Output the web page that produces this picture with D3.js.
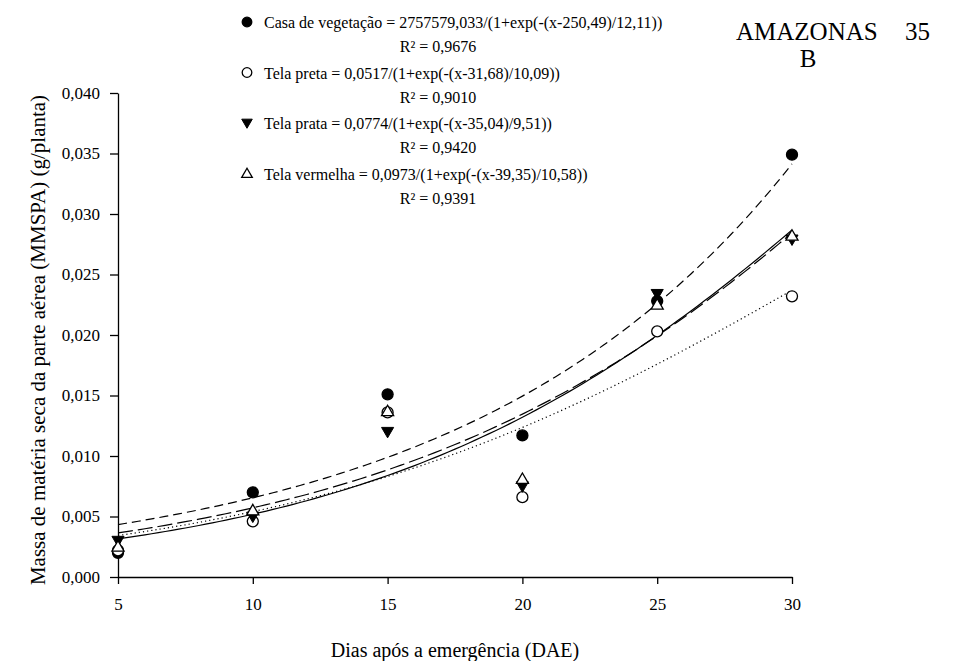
<!DOCTYPE html>
<html>
<head>
<meta charset="utf-8">
<script src="https://cdn.jsdelivr.net/npm/d3@7"></script>
<style>
  body { margin: 0; background: #fff; }
</style>
</head>
<body>
<svg id="chart" width="953" height="661"></svg>
<script>
// days after emergence
const days = [5, 10, 15, 20, 25, 30]

const seriesNames = ["Casa de vegetação", "Tela preta", "Tela prata", "Tela vermelha"]

const casaValues = [0.0020, 0.0070, 0.0151, 0.0117, 0.0228, 0.0349]
const pretaValues = [0.0022, 0.0046, 0.0136, 0.0066, 0.0203, 0.0232]
const prataValues = [0.0030, 0.0050, 0.0120, 0.0075, 0.0234, 0.0279]
const vermelhaValues = [0.0025, 0.0055, 0.0137, 0.0081, 0.0225, 0.0282]

// logistic fit params a/(1+exp(-(x-x0)/b))
const fitA = [2757579.033, 0.0517, 0.0774, 0.0973]
const fitX0 = [250.49, 31.68, 35.04, 39.35]
const fitB = [12.11, 10.09, 9.51, 10.58]
const equations = [
  "Casa de vegetação = 2757579,033/(1+exp(-(x-250,49)/12,11))",
  "Tela preta = 0,0517/(1+exp(-(x-31,68)/10,09))",
  "Tela prata = 0,0774/(1+exp(-(x-35,04)/9,51))",
  "Tela vermelha = 0,0973/(1+exp(-(x-39,35)/10,58))"
]
const r2Labels = ["R² = 0,9676", "R² = 0,9010", "R² = 0,9420", "R² = 0,9391"]

const xTicks = [5, 10, 15, 20, 25, 30]
const yTicks = [0, 0.005, 0.010, 0.015, 0.020, 0.025, 0.030, 0.035, 0.040]

const allValues = [casaValues, pretaValues, prataValues, vermelhaValues]
const markers = ["fcircle", "ocircle", "ftri", "otri"]
const dashes = ["9,5", "1.2,3", null, "15,5"]

const svg = d3.select("#chart")

const x = d3.scaleLinear().domain([5, 30]).range([118, 792])
const y = d3.scaleLinear().domain([0, 0.040]).range([577, 93])

const fmt = v => d3.format(".3f")(v).replace(".", ",")

// axes
svg.append("g")
  .attr("transform", "translate(0," + y(0) + ")")
  .call(d3.axisBottom(x).tickValues(xTicks).tickSize(7).tickSizeOuter(0).tickPadding(14))
svg.append("g")
  .attr("transform", "translate(" + x(5) + ",0)")
  .call(d3.axisLeft(y).tickValues(yTicks).tickFormat(fmt).tickSize(8).tickSizeOuter(0).tickPadding(10))

svg.selectAll(".domain, .tick line").attr("stroke", "#000").attr("stroke-width", 1.3)
svg.selectAll(".tick text").attr("fill", "#000").style("font-size", "17px")

// axis titles
svg.append("text")
  .attr("x", 455).attr("y", 657)
  .attr("text-anchor", "middle")
  .style("font-size", "20px")
  .text("Dias após a emergência (DAE)")

svg.append("text")
  .attr("transform", "translate(45," + 340 + ") rotate(-90)")
  .attr("text-anchor", "middle")
  .style("font-size", "21px")
  .text("Massa de matéria seca da parte aérea (MMSPA) (g/planta)")

// fitted curves
const xs = d3.range(5, 30.01, 0.25)
const line = d3.line().x(d => x(d[0])).y(d => y(d[1]))
seriesNames.forEach((name, i) => {
  const pts = xs.map(v => [v, fitA[i] / (1 + Math.exp(-(v - fitX0[i]) / fitB[i]))])
  svg.append("path")
    .datum(pts)
    .attr("d", line)
    .attr("fill", "none")
    .attr("stroke", "#000")
    .attr("stroke-width", 1.2)
    .attr("stroke-dasharray", dashes[i])
})

function drawMarker(g, kind, cx, cy, s) {
  if (kind == "fcircle" || kind == "ocircle") {
    g.append("circle")
      .attr("cx", cx).attr("cy", cy).attr("r", s)
      .attr("fill", kind == "fcircle" ? "#000" : "#fff")
      .attr("stroke", "#000").attr("stroke-width", 1.3)
  } else if (kind == "ftri") {
    g.append("path")
      .attr("d", `M${cx - s * 1.1},${cy - s * 0.8} L${cx + s * 1.1},${cy - s * 0.8} L${cx},${cy + s * 1.1} Z`)
      .attr("fill", "#000").attr("stroke", "#000").attr("stroke-width", 1)
  } else {
    g.append("path")
      .attr("d", `M${cx - s * 1.1},${cy + s * 0.8} L${cx + s * 1.1},${cy + s * 0.8} L${cx},${cy - s * 1.1} Z`)
      .attr("fill", "#fff").attr("stroke", "#000").attr("stroke-width", 1.3)
  }
}

// data points
const pts = svg.append("g")
allValues.forEach((vals, i) => {
  vals.forEach((v, j) => drawMarker(pts, markers[i], x(days[j]), y(v), 5.5))
})

// legend
const leg = svg.append("g")
seriesNames.forEach((name, i) => {
  const ry = 22 + i * 50.5
  drawMarker(leg, markers[i], 247, ry, 4.8)
  leg.append("text")
    .attr("x", 264).attr("y", ry + 6)
    .style("font-size", "16px")
    .text(equations[i])
  leg.append("text")
    .attr("x", 438).attr("y", ry + 30)
    .attr("text-anchor", "middle")
    .style("font-size", "16px")
    .text(r2Labels[i])
})

svg.append("text")
  .attr("x", 736).attr("y", 40)
  .style("font-size", "25px")
  .text("AMAZONAS")
svg.append("text")
  .attr("x", 930).attr("y", 40)
  .attr("text-anchor", "end")
  .style("font-size", "25px")
  .text("35")
svg.append("text")
  .attr("x", 808).attr("y", 67)
  .attr("text-anchor", "middle")
  .style("font-size", "25px")
  .text("B")

// Times-like serif on every text
svg.selectAll("text").style("font-family", "Liberation Serif")
</script>
</body>
</html>
